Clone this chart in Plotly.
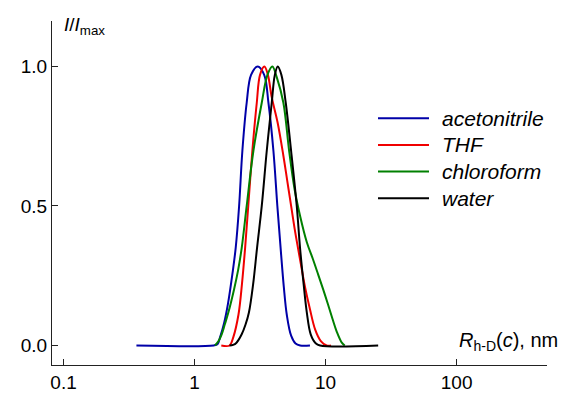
import plotly.graph_objects as go

# ---- data (x: hydrodynamic radius in nm, y: I/Imax) ----
series_names = ["acetonitrile", "THF", "chloroform", "water"]

acetonitrile_x = [0.36, 1.40, 1.50, 1.567, 1.68, 1.80, 1.95, 2.061, 2.188, 2.317, 2.50, 2.70,
                  3.034, 3.40, 3.664, 4.00, 4.285, 4.571, 4.80, 5.058, 5.458, 5.90, 6.40, 7.6]
acetonitrile_y = [0, 0, 0.005, 0.03, 0.08, 0.15, 0.26, 0.35, 0.5, 0.697, 0.87, 0.97,
                  1.0, 0.97, 0.87, 0.697, 0.5, 0.33, 0.21, 0.11, 0.035, 0.007, 0, 0]

thf_x = [1.60, 1.85, 1.977, 2.163, 2.30, 2.432, 2.57, 2.761, 2.985, 3.16, 3.412, 3.63,
         3.882, 4.30, 4.764, 5.10, 5.458, 5.80, 6.209, 6.60, 6.966, 7.6, 8.318, 9.2, 10.19, 11.0]
thf_y = [0, 0, 0.03, 0.11, 0.22, 0.35, 0.5, 0.697, 0.87, 0.97, 1.0, 0.97,
         0.89, 0.80, 0.68, 0.59, 0.5, 0.42, 0.34, 0.27, 0.21, 0.13, 0.058, 0.016, 0, 0]

chloroform_x = [1.432, 1.52, 1.611, 1.70, 1.811, 2.00, 2.15, 2.291, 2.50, 2.812, 3.258, 3.60,
                3.926, 4.25, 4.764, 5.272, 5.80, 6.383, 7.194, 8.0, 8.770, 9.6, 10.47,
                11.3, 12.16, 13.3, 14.0]
chloroform_y = [0, 0.015, 0.04, 0.075, 0.118, 0.2, 0.27, 0.35, 0.5, 0.697, 0.87, 0.97,
                1.0, 0.96, 0.87, 0.697, 0.56, 0.465, 0.37, 0.31, 0.255, 0.2, 0.145,
                0.095, 0.05, 0.01, 0]

water_x = [1.85, 1.97, 2.09, 2.29, 2.45, 2.60, 2.80, 3.0, 3.258, 3.556, 3.882, 4.10, 4.315,
           4.60, 4.966, 5.458, 6.026, 6.383, 6.80, 7.194, 7.70, 8.40, 9.08, 25.2]
water_y = [0, 0.002, 0.01, 0.04, 0.075, 0.118, 0.22, 0.35, 0.5, 0.697, 0.87, 0.97, 1.0,
           0.97, 0.87, 0.697, 0.5, 0.35, 0.22, 0.118, 0.04, 0.008, 0, 0]

xs = [acetonitrile_x, thf_x, chloroform_x, water_x]
ys = [acetonitrile_y, thf_y, chloroform_y, water_y]

x_tick_vals = [0.1, 1, 10, 100]
x_tick_text = ["0.1", "1", "10", "100"]
y_tick_vals = [0.0, 0.5, 1.0]
y_tick_text = ["0.0", "0.5", "1.0"]

colors = ["#0000a8", "#f00000", "#008000", "#000000"]

FONT = "Liberation Sans, Arial, sans-serif"

fig = go.Figure()
for name, x, y, c in zip(series_names, xs, ys, colors):
    fig.add_trace(go.Scatter(
        x=x, y=y, name=name, mode="lines",
        line=dict(color=c, width=2, shape="spline", smoothing=1.0),
        showlegend=False, hoverinfo="skip",
    ))

W, H = 561, 405
L, R, T, B = 52, 14, 21, 30
pw, ph = W - L - R, H - T - B


def px(xp):
    return (xp - L) / pw


def py(yp):
    return (H - B - yp) / ph


# custom legend (longer line samples like the reference)
legend_rows = [121, 148.5, 176, 203.5]
for name, c, yr in zip(series_names, colors, legend_rows):
    fig.add_shape(type="line", xref="paper", yref="paper",
                  x0=px(378), x1=px(429), y0=py(yr), y1=py(yr),
                  line=dict(color=c, width=2))
    fig.add_annotation(xref="paper", yref="paper", x=px(440), y=py(yr),
                       xanchor="left", yanchor="middle", showarrow=False,
                       text="<i>" + name + "</i>",
                       font=dict(family=FONT, size=21, color="black"))

# axis titles
fig.add_annotation(xref="paper", yref="paper", x=px(62), y=py(12),
                   xanchor="left", yanchor="top", showarrow=False,
                   text="<i>I</i>/<i>I</i><sub>max</sub>",
                   font=dict(family=FONT, size=19, color="black"))
fig.add_annotation(xref="paper", yref="paper", x=px(560), y=py(366),
                   xanchor="right", yanchor="bottom", showarrow=False,
                   text="<i>R</i><sub>h-D</sub>(<i>c</i>), nm",
                   font=dict(family=FONT, size=20, color="black"))

fig.update_xaxes(type="log", range=[-1.088, 2.69],
                 tickvals=x_tick_vals, ticktext=x_tick_text,
                 showline=True, linecolor="#222", linewidth=1,
                 ticks="inside", ticklen=6, tickcolor="#222", tickwidth=1,
                 showgrid=False, zeroline=False,
                 tickfont=dict(family=FONT, size=19, color="black"))
fig.update_yaxes(range=[-0.07, 1.163],
                 tickvals=y_tick_vals, ticktext=y_tick_text,
                 showline=True, linecolor="#222", linewidth=1,
                 ticks="inside", ticklen=6, tickcolor="#222", tickwidth=1,
                 showgrid=False, zeroline=False,
                 tickfont=dict(family=FONT, size=19, color="black"))

fig.update_layout(
    width=W, height=H,
    margin=dict(l=L, r=R, t=T, b=B),
    paper_bgcolor="white", plot_bgcolor="white",
    showlegend=False, hovermode=False,
)

# remove the browser's default 8px page margin so the figure fills the window
fig.write_html("out.html",
               config={"displayModeBar": False, "staticPlot": True},
               post_script="document.body.style.margin='0px';"
                           "document.body.style.overflow='hidden';")
